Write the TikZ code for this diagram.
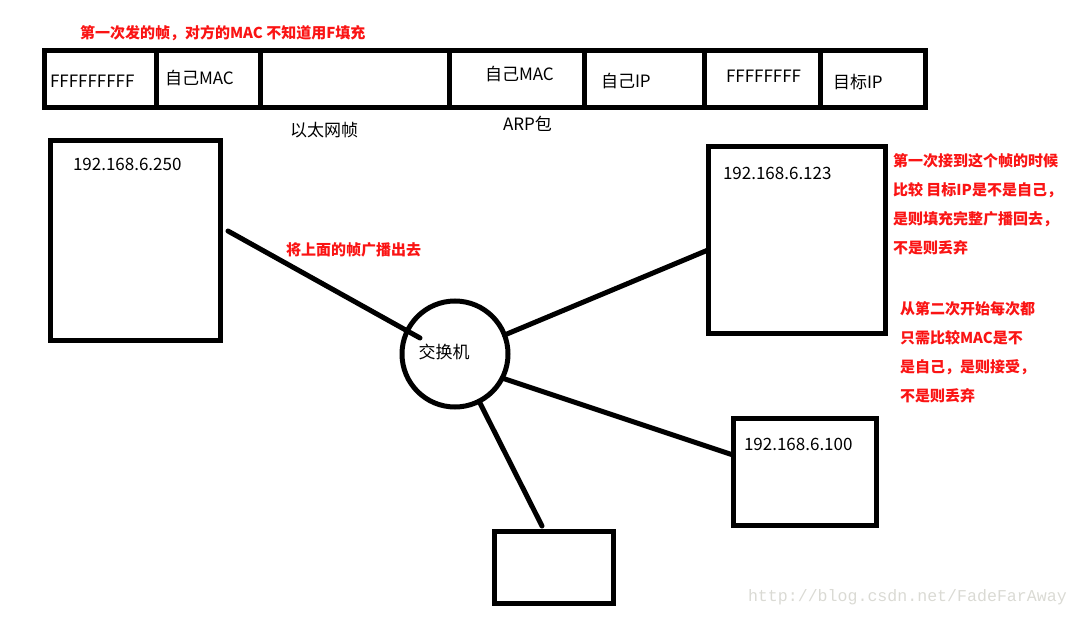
\documentclass[tikz,border=0pt]{standalone}
\usepackage{fontspec}
\setmainfont{Noto Sans CJK SC}
\newfontfamily\wmfont{Liberation Mono}
\usepackage{tikz}
\usetikzlibrary{positioning,calc}
\definecolor{notered}{RGB}{250,20,20}
\definecolor{wmgray}{RGB}{218,218,212}

\begin{document}
\begin{tikzpicture}[
    x=1pt, y=-1pt,
    node distance=0pt,
    every node/.style={inner sep=0pt, outer sep=0pt},
    cell/.style={rectangle, draw, line width=5pt, minimum height=56pt},
    host/.style={rectangle, draw, line width=5pt},
    hub/.style={circle, draw, line width=5pt, minimum size=106pt},
    plain/.style={font=\fontsize{17}{20}\selectfont, anchor=west},
    note/.style={font=\fontsize{15}{28.7}\selectfont\bfseries, text=notered, align=left},
    wire/.style={line width=5pt, line cap=round}
]
\useasboundingbox (0,0) rectangle (1079,618);

% Frame: Ethernet header + ARP packet
\node[cell, minimum width=112pt] (dstmac) at (100,79) {};
\node[cell, minimum width=104pt, right=of dstmac] (srcmac) {};
\node[cell, minimum width=189pt, right=of srcmac] (ethtype) {};
\node[cell, minimum width=135pt, right=of ethtype] (sndmac) {};
\node[cell, minimum width=120pt, right=of sndmac] (sndip) {};
\node[cell, minimum width=116pt, right=of sndip] (tgtmac) {};
\node[cell, minimum width=105pt, right=of tgtmac] (tgtip) {};

\node[plain] (t-dstmac) at (50,81) {FFFFFFFFF};
\node[plain] (t-srcmac) at (165,78) {自己MAC};
\node[plain] (t-sndmac) at (485,74) {自己MAC};
\node[plain] (t-sndip) at (601,81) {自己IP};
\node[plain] (t-tgtmac) at (726,76) {FFFFFFFF};
\node[plain] (t-tgtip) at (833,82) {目标IP};

\node[plain] (ethlabel) at (290,130) {以太网帧};
\node[plain] (arplabel) at (503,124) {ARP包};

\node[note, anchor=west] (title) at (80,33) {第一次发的帧，对方的MAC 不知道用F填充};

% Hosts and switch
\node[host, minimum width=170pt, minimum height=200pt] (pc250) at (135,240) {};
\node[host, minimum width=177pt, minimum height=187pt] (pc123) at (796.5,239.5) {};
\node[host, minimum width=143pt, minimum height=107pt] (pc100) at (804.5,471.5) {};
\node[host, minimum width=119pt, minimum height=72pt] (pcx) at (553.5,567) {};
\node[hub, label={[plain, anchor=center, xshift=-11pt, yshift=2pt]center:交换机}] (switch) at (455,354) {};

\node[plain] (ip250) at (73,164) {192.168.6.250};
\node[plain] (ip123) at (723,173) {192.168.6.123};
\node[plain] (ip100) at (744,444) {192.168.6.100};

% Links
\draw[wire] ([xshift=8pt, yshift=9pt]pc250.east) -- ([xshift=-35pt, yshift=16pt]switch.center);
\draw[wire] (switch.21) -- ([yshift=-10.5pt]pc123.west);
\draw[wire] (switch.-27) -- ([yshift=16.5pt]pc100.west);
\draw[wire] (switch.-63) -- ([xshift=-11.5pt, yshift=5pt]pcx.north);

% Notes
\node[note, anchor=west] (bcast) at (286,250) {将上面的帧广播出去};
\node[note, anchor=north west] (first) at (893,154) {第一次接到这个帧的时候\\比较 目标IP是不是自己，\\是则填充完整广播回去，\\不是则丢弃};
\node[note, anchor=north west] (later) at (900,302) {从第二次开始每次都\\只需比较MAC是不\\是自己，是则接受，\\不是则丢弃};

\node[font=\wmfont\fontsize{16.6}{20}\selectfont, text=wmgray, anchor=west] (wm) at (748,597) {http://blog.csdn.net/FadeFarAway};
\end{tikzpicture}
\end{document}
